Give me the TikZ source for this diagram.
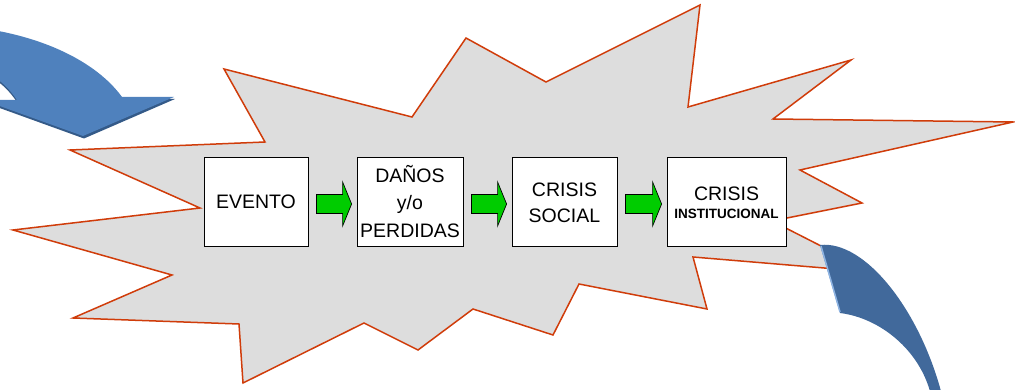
\documentclass[tikz,border=0pt]{standalone}
\usepackage{fontspec}
\setmainfont{Liberation Sans}
\usetikzlibrary{calc}
\definecolor{starfill}{HTML}{DDDDDD}
\definecolor{starline}{HTML}{D03C0A}
\definecolor{blueA}{HTML}{4F81BD}
\definecolor{blueAshadow}{HTML}{345A88}
\definecolor{blueB}{HTML}{41699B}
\definecolor{blueBlight}{HTML}{8EB4E3}
\definecolor{arrowgreen}{HTML}{00CC00}
\newcommand\greenarrow[2]{%
  \draw[garrow] let \p1=($(#1.east)+(8pt,-2.5pt)$), \p2=($(#2.west)+(-5pt,-2.5pt)$) in
    (\x1,{\y1+9.5pt}) -- ({\x2-9pt},{\y1+9.5pt}) -- ({\x2-9pt},{\y1+22pt}) -- (\x2,\y1)
    -- ({\x2-9pt},{\y1-22pt}) -- ({\x2-9pt},{\y1-9.5pt}) -- (\x1,{\y1-9.5pt}) -- cycle;}
\begin{document}
\begin{tikzpicture}[x=1pt,y=-1pt,
  burst/.style={fill=starfill,draw=starline,line width=1.5pt,line join=miter},
  box/.style={draw=black,line width=0.8pt,fill=white,inner sep=0pt,align=center,
    font=\fontsize{19.5}{27.5}\selectfont},
  boxtext/.style={inner sep=0pt,align=center,font=\fontsize{19.5}{26}\selectfont},
  garrow/.style={fill=arrowgreen,draw=black,line width=0.7pt,line join=miter},
  bluearrowA/.style={fill=blueA},
  bluearrowAshadow/.style={fill=blueAshadow},
  bluearrowB/.style={fill=blueB},
  bluearrowBedge/.style={draw=blueBlight,line width=1.5pt}]
\useasboundingbox (0,0) rectangle (1015,390);
\clip (0,0) rectangle (1015,390);
% burst
\draw[burst] (224,69) -- (412,117) -- (466,38) -- (546,82) -- (700,5) -- (688,107)
  -- (851,60) -- (773,119) -- (1013,122) -- (800,170) -- (862,203) -- (772,221)
  -- (872,272) -- (693,257) -- (707,309) -- (579,284) -- (553,335) -- (473,309)
  -- (418,350) -- (364,323) -- (243,383) -- (239,324) -- (73,318) -- (172,275)
  -- (13,230) -- (200,208) -- (70,150) -- (265,142) -- cycle;
% left blue curved arrow (shadow then body)
\fill[bluearrowAshadow] (-20,30) .. controls (40,38) and (97,63) .. (123,99) -- (175,99)
  -- (84,138.5) -- (-17,102) -- (17,102) .. controls (10,92) and (2,82) .. (-20,70) -- cycle;
\fill[bluearrowA] (-20,28) .. controls (40,36) and (95,60) .. (122,97) -- (174,97)
  -- (83,136) -- (-17,100) -- (17,100) .. controls (10,90) and (2,80) .. (-20,68) -- cycle;
% right blue curved arrow
\fill[bluearrowB] (820,245) .. controls (865,240) and (920,310) .. (942,395) -- (931,395)
  .. controls (920,350) and (880,318) .. (840,313) -- cycle;
\draw[bluearrowBedge] (821,246) -- (840,312);
% boxes
\node[box,minimum width=104pt,minimum height=89pt] (evento) at (256,201.5) {EVENTO};
\node[box,minimum width=106pt,minimum height=89pt] (danos) at (410,201.5) {DAÑOS\\y/o\\PERDIDAS};
\node[box,minimum width=105pt,minimum height=89pt,
  label={[boxtext,yshift=-1.5pt]center:CRISIS\\SOCIAL}] (social) at (564.5,201.5) {};
\node[box,minimum width=119pt,minimum height=89pt,
  label={[boxtext,yshift=-1.5pt]center:CRISIS\\[-8pt]{\bfseries\fontsize{13.5}{16}\selectfont INSTITUCIONAL}}]
  (inst) at (726.5,201.5) {};
% green block arrows
\greenarrow{evento}{danos}
\greenarrow{danos}{social}
\greenarrow{social}{inst}
\end{tikzpicture}
\end{document}
